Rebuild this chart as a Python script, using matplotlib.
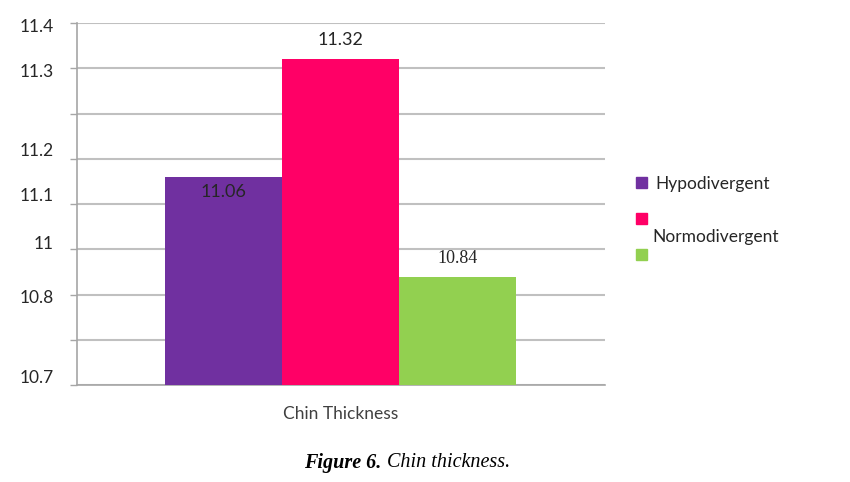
import numpy as np
import matplotlib
matplotlib.use('Agg')
import matplotlib.pyplot as plt

# data
category = 'Chin Thickness'
groups = ['Hypodivergent', 'Normodivergent', '']
values = [11.06, 11.32, 10.84]
colors = ['#7030A0', '#FF0066', '#92D050']
# y tick labels as printed in the reference (placed where they appear)
ytick_labels = ['11.4', '11.3', '11.2', '11.1', '11', '10.8', '10.7']
ytick_pos = [11.394, 11.296, 11.121, 11.021, 10.915, 10.795, 10.62]
grid_vals = np.round(np.arange(10.6, 11.41, 0.1), 1)

plt.rcParams['font.family'] = ['Lato', 'DejaVu Sans']
fig = plt.figure(figsize=(8.5, 4.82), dpi=100)
ax = fig.add_axes([0.0906, 0.201, 0.6214, 0.751])

xs = np.array([-1, 0, 1])
bars = ax.bar(xs, np.array(values) - 10.6, bottom=10.6, width=1.0, color=colors, zorder=3)

ax.set_ylim(10.6, 11.4)
ax.set_xlim(-2.25, 2.26)

# gridlines / tick marks
ax.set_yticks(grid_vals)
ax.set_yticklabels([])
ax.tick_params(axis='y', which='major', length=5, color='#A6A6A6', width=1)
ax.set_yticks(ytick_pos, ytick_labels, minor=True)
ax.tick_params(axis='y', which='minor', length=0, labelsize=12.5, colors='#262626', pad=17)
ax.yaxis.grid(True, which='major', color='#C0C0C0', lw=1.5, zorder=0)

ax.set_xticks([0], [category])
ax.tick_params(axis='x', length=0, labelsize=12.5, labelcolor='#404040', pad=15)

for s in ['top', 'right']:
    ax.spines[s].set_visible(False)
for s in ['left', 'bottom']:
    ax.spines[s].set_color('#A6A6A6')
    ax.spines[s].set_linewidth(1.2)

# value labels
ax.annotate(f'{values[0]:.2f}', (xs[0], values[0]), xytext=(0, -11), textcoords='offset points',
            ha='center', va='center', fontsize=13, color='#262626', zorder=4)
ax.annotate(f'{values[1]:.2f}', (xs[1], values[1]), xytext=(0, 14), textcoords='offset points',
            ha='center', va='center', fontsize=13, color='#262626')
ax.annotate(f'{values[2]:.2f}', (xs[2], values[2]), xytext=(0, 13), textcoords='offset points',
            ha='center', va='center', fontsize=13, color='#262626', family='Liberation Serif')

# legend: the reference shows the second name dropped below its swatch and no name for green
handles = [plt.Rectangle((0, 0), 1, 1, color=c) for c in colors]
fig.legend(handles, [groups[0], ' ', ' '], loc='upper left', bbox_to_anchor=(0.73, 0.668),
           frameon=False, fontsize=12.5, handlelength=0.6, handleheight=0.6,
           handletextpad=0.5, labelspacing=1.15, labelcolor='#262626')
fig.text(0.767, 0.508, groups[1], ha='left', va='center', fontsize=12.5, color='#262626')

# caption
fig.text(0.449, 0.04, 'Figure 6.', ha='right', va='center', fontsize=14.5,
         family='Liberation Serif', style='italic', weight='bold')
fig.text(0.455, 0.04, 'Chin thickness.', ha='left', va='center', fontsize=14.5,
         family='Liberation Serif', style='italic')

fig.savefig('out.png', dpi=100)
